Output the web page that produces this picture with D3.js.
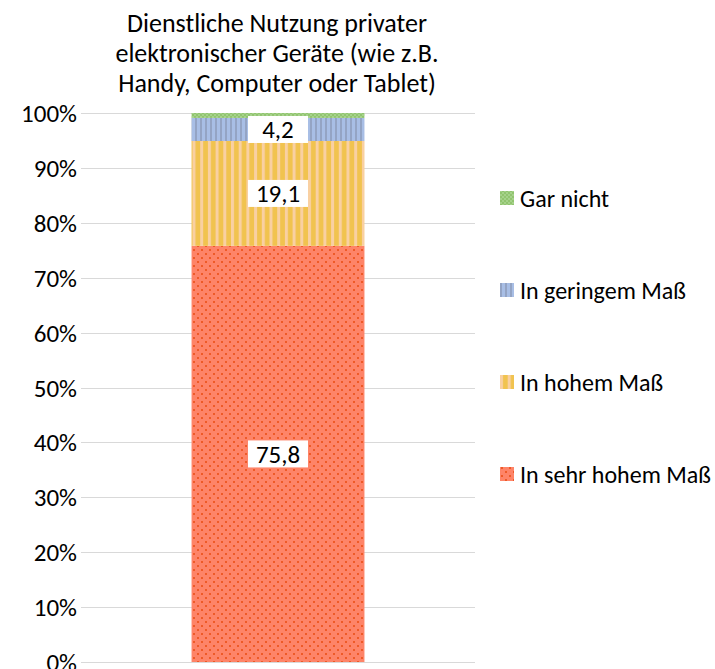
<!DOCTYPE html>
<html><head><meta charset="utf-8">
<script src="https://cdn.jsdelivr.net/npm/d3@7"></script>
<style>
body{margin:0;background:#fff;}
text{font-family:Carlito,Calibri,Lato,sans-serif;fill:#000;}
</style></head>
<body>
<svg id="c" width="715" height="669"></svg>
<script>
const titleLines = ["Dienstliche Nutzung privater","elektronischer Geräte (wie z.B.","Handy, Computer oder Tablet)"];
const categories = ["Dienstliche Nutzung privater elektronischer Geräte"];
const seriesNames = ["In sehr hohem Maß","In hohem Maß","In geringem Maß","Gar nicht"];
const seriesValues = [75.8, 19.1, 4.2, 0.9];
const showLabel = [true, true, true, false];
const tickValues = [0,10,20,30,40,50,60,70,80,90,100];
const tickLabels = ["0%","10%","20%","30%","40%","50%","60%","70%","80%","90%","100%"];

const svg = d3.select("#c");
const FS = 25, FS_TITLE = 26, FS_LEG = 24;

// patterns
const defs = svg.append("defs");
// red dotted
let p = defs.append("pattern").attr("id","pat0").attr("patternUnits","userSpaceOnUse").attr("width",8).attr("height",8);
p.append("rect").attr("width",8).attr("height",8).attr("fill","#fe8468");
p.append("rect").attr("x",1).attr("y",1).attr("width",2).attr("height",2).attr("fill","#ee5a28");
p.append("rect").attr("x",5).attr("y",5).attr("width",2).attr("height",2).attr("fill","#ee5a28");
// yellow stripes
p = defs.append("pattern").attr("id","pat1").attr("patternUnits","userSpaceOnUse").attr("width",7.7).attr("height",8);
p.append("rect").attr("width",7.7).attr("height",8).attr("fill","#f1c34f");
p.append("rect").attr("x",0).attr("width",3).attr("height",8).attr("fill","#f9d0a2");
// blue stripes
p = defs.append("pattern").attr("id","pat2").attr("patternUnits","userSpaceOnUse").attr("width",5).attr("height",8);
p.append("rect").attr("width",5).attr("height",8).attr("fill","#a8bee5");
p.append("rect").attr("x",0).attr("width",2).attr("height",8).attr("fill","#94a4c4");
// green checker
p = defs.append("pattern").attr("id","pat3").attr("patternUnits","userSpaceOnUse").attr("width",4).attr("height",4);
p.append("rect").attr("width",4).attr("height",4).attr("fill","#91c46f");
p.append("rect").attr("width",2).attr("height",2).attr("fill","#a5d28a");
p.append("rect").attr("x",2).attr("y",2).attr("width",2).attr("height",2).attr("fill","#a5d28a");

const y = d3.scaleLinear().domain([0,100]).range([662,113]);
const x = d3.scaleBand().domain(categories).range([81,475]).paddingInner(0.39).paddingOuter(0.39);

// gridlines
svg.append("g").selectAll("line").data(tickValues).join("line")
  .attr("x1",81).attr("x2",475)
  .attr("y1",d=>Math.round(y(d))+0.5).attr("y2",d=>Math.round(y(d))+0.5)
  .attr("stroke","#d9d9d9").attr("stroke-width",1.2);

// axis labels
svg.append("g").selectAll("text").data(tickValues).join("text")
  .attr("x",77).attr("y",d=>y(d)).attr("dy","0.36em")
  .attr("text-anchor","end").style("font-size",FS+"px")
  .text((d,i)=>tickLabels[i]);

// stacked data
let acc = 0;
const segs = seriesValues.map((v,i)=>{const s={i,v,y0:acc,y1:acc+v};acc+=v;return s;});

const cat = categories[0];
svg.append("g").selectAll("rect").data(segs).join("rect")
  .attr("x",x(cat)).attr("width",x.bandwidth())
  .attr("y",d=>y(d.y1)).attr("height",d=>y(d.y0)-y(d.y1))
  .attr("fill",d=>`url(#pat${d.i})`);

// data labels
const lab = svg.append("g").selectAll("g").data(segs.filter(d=>showLabel[d.i])).join("g")
  .attr("transform",d=>`translate(${x(cat)+x.bandwidth()/2},${(y(d.y0)+y(d.y1))/2})`);
lab.append("rect").attr("x",-30).attr("y",-13.5).attr("width",60).attr("height",27).attr("fill","#fff");
lab.append("text").attr("text-anchor","middle").attr("dy","0.36em").style("font-size",FS+"px")
  .text(d=>d.v.toFixed(1).replace(".",","));

// title
svg.append("g").selectAll("text").data(titleLines).join("text")
  .attr("x",277).attr("y",(d,i)=>31.5+i*30).attr("text-anchor","middle").style("font-size",FS_TITLE+"px")
  .text(d=>d);

// legend (reversed order, top = Gar nicht)
const legOrder = [3,2,1,0];
const leg = svg.append("g").selectAll("g").data(legOrder).join("g")
  .attr("transform",(d,i)=>`translate(500,${198+i*92})`);
leg.append("rect").attr("x",0).attr("y",-7).attr("width",14).attr("height",14).attr("fill",d=>`url(#pat${d})`);
leg.append("text").attr("x",20).attr("dy","0.36em").style("font-size",FS_LEG+"px").text(d=>seriesNames[d]);
</script>
</body></html>
